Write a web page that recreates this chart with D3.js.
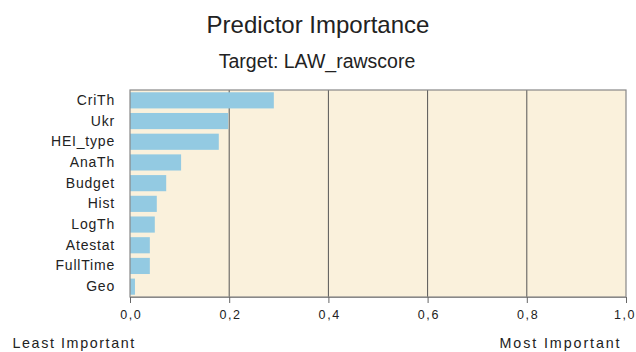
<!DOCTYPE html>
<html>
<head>
<meta charset="utf-8">
<script src="https://cdn.jsdelivr.net/npm/d3@7"></script>
<style>
  html, body { margin: 0; padding: 0; background: #fff; }
  svg { display: block; font-family: "Liberation Sans", Arial, sans-serif; }
</style>
</head>
<body>
<svg id="chart" width="636" height="352"></svg>
<script>
// Predictor names, top to bottom, and their importance values
const predictors = ["CriTh", "Ukr", "HEI_type", "AnaTh", "Budget", "Hist", "LogTh", "Atestat", "FullTime", "Geo"];
const importance = [0.290, 0.198, 0.179, 0.103, 0.073, 0.054, 0.050, 0.040, 0.040, 0.010];
const tickValues = [0, 0.2, 0.4, 0.6, 0.8, 1.0];
const tickLabels = ["0,0", "0,2", "0,4", "0,6", "0,8", "1,0"];

const svg = d3.select("#chart");
const plotLeft = 130, plotRight = 626, plotTop = 90, plotBottom = 297;
const textColor = "#222";

const x = d3.scaleLinear().domain([0, 1]).range([plotLeft, plotRight]);
const y = d3.scaleBand().domain(predictors).range([plotTop, plotBottom]).paddingInner(0.22).paddingOuter(0.11);

// Titles
svg.append("text").attr("x", 318).attr("y", 33).attr("text-anchor", "middle")
  .attr("font-size", 24).attr("fill", textColor).text("Predictor Importance");
svg.append("text").attr("x", 317).attr("y", 68).attr("text-anchor", "middle")
  .attr("font-size", 19.5).attr("fill", textColor).text("Target: LAW_rawscore");

// Plot background
svg.append("rect").attr("x", plotLeft).attr("y", plotTop)
  .attr("width", plotRight - plotLeft).attr("height", plotBottom - plotTop)
  .attr("fill", "#faf1dc");

// Vertical grid lines
svg.append("g").selectAll("line").data(tickValues.slice(1, -1)).join("line")
  .attr("x1", d => x(d)).attr("x2", d => x(d)).attr("y1", plotTop).attr("y2", plotBottom)
  .attr("stroke", "#555").attr("stroke-width", 1);

// Bars
svg.append("g").selectAll("rect").data(predictors).join("rect")
  .attr("x", x(0)).attr("y", d => y(d))
  .attr("width", (d, i) => x(importance[i]) - x(0)).attr("height", y.bandwidth())
  .attr("fill", "#93cae2");

// Plot frame
svg.append("rect").attr("x", plotLeft).attr("y", plotTop)
  .attr("width", plotRight - plotLeft).attr("height", plotBottom - plotTop)
  .attr("fill", "none").attr("stroke", "#888").attr("stroke-width", 1.2);

// Category axis
const yAxis = svg.append("g").attr("transform", `translate(${plotLeft},0)`)
  .call(d3.axisLeft(y).tickSize(0).tickPadding(15));
yAxis.select(".domain").remove();
yAxis.selectAll("text").attr("font-size", 14).attr("fill", textColor).attr("letter-spacing", "0.8px")
  .attr("font-family", "Liberation Sans, Arial, sans-serif");

// Value axis
const xAxis = svg.append("g").attr("transform", `translate(0,${plotBottom})`)
  .call(d3.axisBottom(x).tickValues(tickValues).tickFormat((d, i) => tickLabels[i]).tickSize(6).tickPadding(7));
xAxis.select(".domain").attr("stroke", "#888");
xAxis.selectAll("line").attr("stroke", "#666");
xAxis.selectAll("text").attr("font-size", 12.5).attr("fill", textColor).attr("letter-spacing", "1.6px")
  .attr("dx", (d, i) => i === tickValues.length - 1 ? "-1.5px" : "0.8px")
  .attr("font-family", "Liberation Sans, Arial, sans-serif");

// Axis end captions
svg.append("text").attr("x", 12.5).attr("y", 348).attr("font-size", 14.3)
  .attr("letter-spacing", "1.6px").attr("fill", textColor).text("Least Important");
svg.append("text").attr("x", 621.5).attr("y", 348).attr("text-anchor", "end").attr("font-size", 14.3)
  .attr("letter-spacing", "1.9px").attr("fill", textColor).text("Most Important");
</script>
</body>
</html>
